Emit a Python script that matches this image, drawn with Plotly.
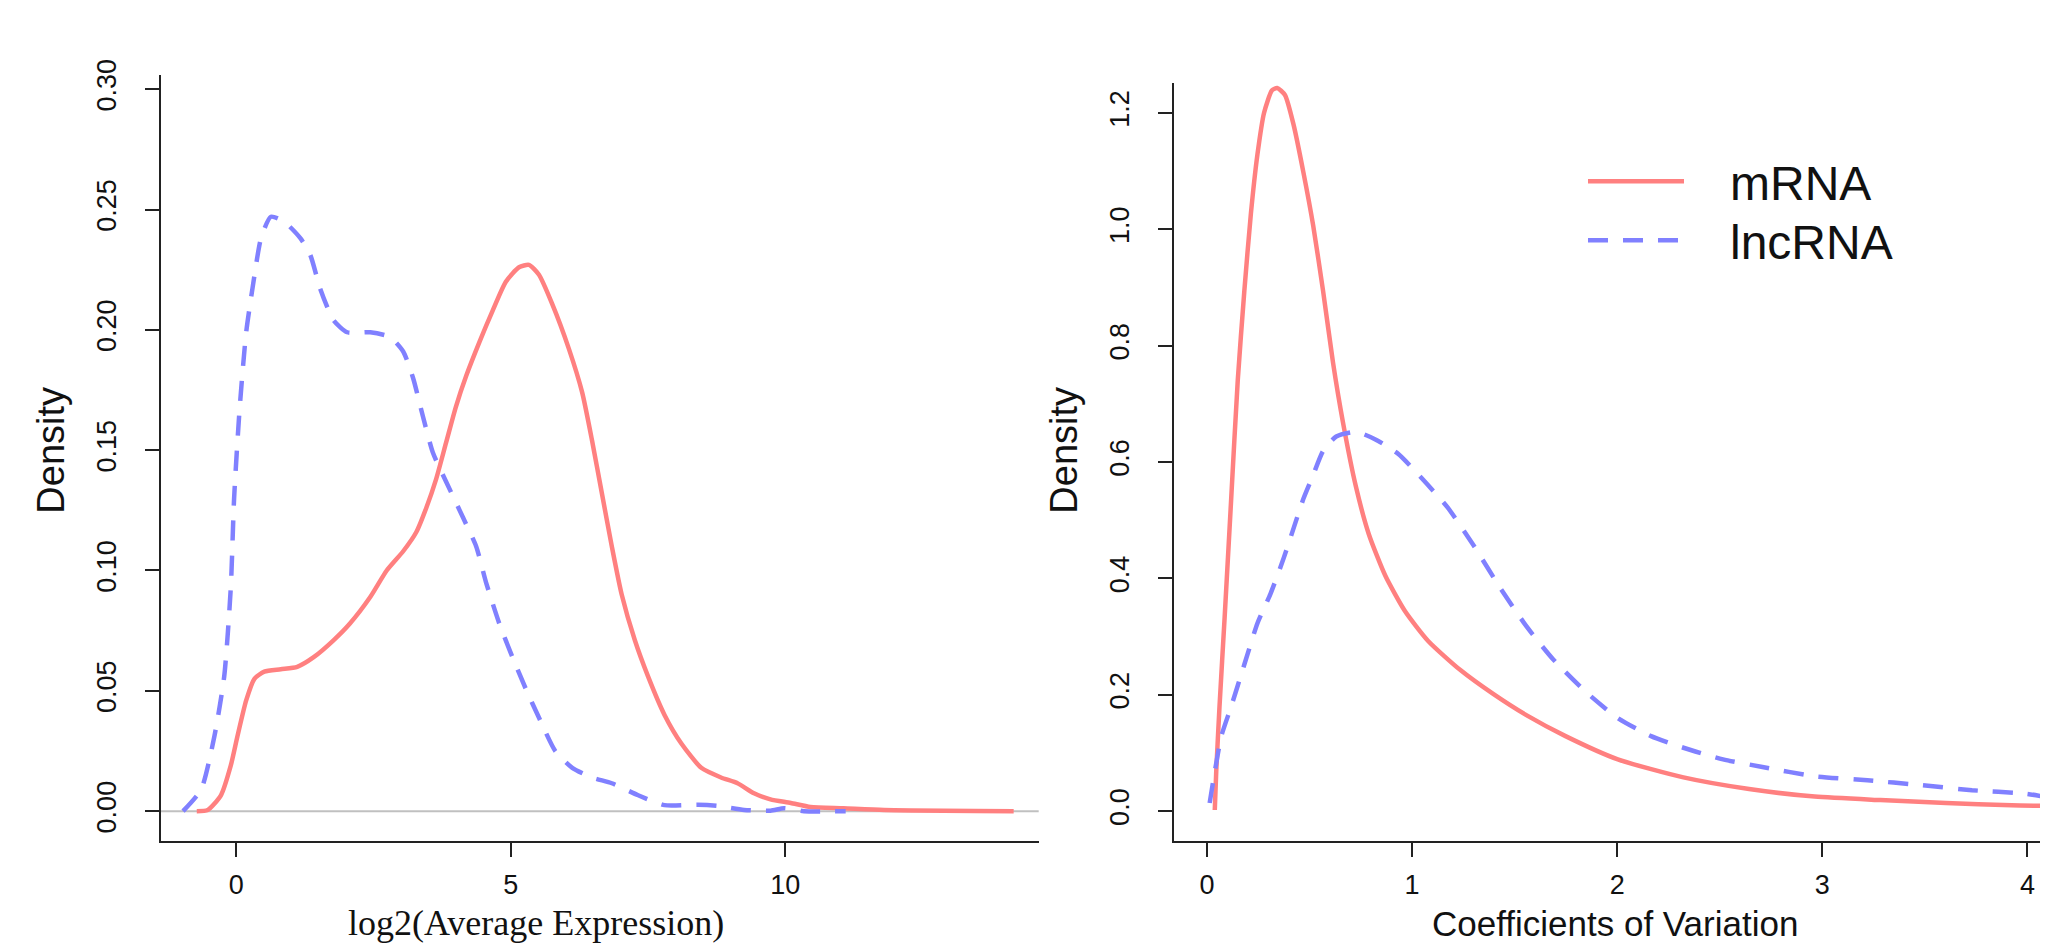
import plotly.graph_objects as go

# ---- Left panel: log2(Average Expression) densities ----
expr_lnc_x = [-0.97, -0.64, -0.40, -0.22, -0.10, -0.04, 0.06, 0.18, 0.30, 0.45, 0.63, 0.87, 1.17, 1.35,
              1.53, 1.77, 2.02, 2.44, 2.80, 3.04, 3.22, 3.40, 3.58, 3.82, 4.13, 4.37, 4.55, 4.79, 5.03,
              5.27, 5.51, 5.81, 6.12, 6.48, 6.84, 7.32, 7.80, 8.41, 8.77, 9.25, 9.73, 9.98, 10.34, 11.1]
expr_lnc_y = [0.0, 0.009, 0.031, 0.056, 0.093, 0.130, 0.167, 0.199, 0.218, 0.238, 0.247, 0.245, 0.238, 0.231,
              0.217, 0.204, 0.199, 0.199, 0.197, 0.191, 0.180, 0.164, 0.149, 0.137, 0.122, 0.110, 0.095, 0.078, 0.064,
              0.051, 0.039, 0.025, 0.018, 0.014, 0.0116, 0.0066, 0.0025, 0.0027, 0.0022, 0.0005, 0.0002, 0.0012, 0.0, 0.0]

expr_m_x = [-0.72, -0.52, -0.28, -0.10, 0.02, 0.18, 0.33, 0.51, 0.81, 1.11, 1.41, 1.77, 2.07, 2.44, 2.74,
            3.04, 3.28, 3.46, 3.64, 3.82, 4.00, 4.19, 4.43, 4.67, 4.91, 5.15, 5.33, 5.51, 5.75, 6.06, 6.30,
            6.48, 6.66, 6.84, 7.02, 7.26, 7.50, 7.80, 8.11, 8.47, 8.83, 9.13, 9.43, 9.73, 10.1, 10.46, 11.06,
            11.8, 14.16]
expr_m_y = [0.0, 0.0005, 0.0066, 0.019, 0.031, 0.046, 0.055, 0.058, 0.059, 0.060, 0.064, 0.071, 0.078, 0.089, 0.100,
            0.108, 0.116, 0.126, 0.138, 0.153, 0.168, 0.181, 0.195, 0.208, 0.220, 0.226, 0.227, 0.223, 0.211, 0.192, 0.174,
            0.154, 0.132, 0.110, 0.090, 0.071, 0.056, 0.040, 0.028, 0.018, 0.014, 0.0116, 0.0074, 0.0049, 0.0034, 0.0017, 0.0012,
            0.0005, 0.0]

# ---- Right panel: Coefficients of Variation densities ----
cv_m_x = [0.038, 0.045, 0.061, 0.086, 0.118, 0.150, 0.182, 0.214, 0.246, 0.278, 0.317, 0.342, 0.380, 0.422,
          0.470, 0.518, 0.566, 0.614, 0.662, 0.726, 0.789, 0.869, 0.965, 1.077, 1.237, 1.397, 1.557, 1.748,
          2.003, 2.323, 2.643, 2.963, 3.283, 3.603, 3.923, 4.13]
cv_m_y = [0.002, 0.068, 0.18, 0.333, 0.537, 0.741, 0.894, 1.027, 1.129, 1.200, 1.239, 1.243, 1.231, 1.180,
          1.098, 1.006, 0.894, 0.772, 0.670, 0.558, 0.476, 0.405, 0.344, 0.293, 0.242, 0.201, 0.165, 0.129,
          0.089, 0.058, 0.038, 0.025, 0.019, 0.014, 0.010, 0.009]

cv_lnc_x = [0.013, 0.038, 0.070, 0.118, 0.182, 0.246, 0.310, 0.374, 0.422, 0.470, 0.518, 0.566, 0.630, 0.726,
            0.821, 0.933, 1.045, 1.173, 1.301, 1.429, 1.557, 1.685, 1.844, 2.003, 2.165, 2.323, 2.516, 2.708,
            2.963, 3.22, 3.475, 3.73, 3.99, 4.13]
cv_lnc_y = [0.014, 0.068, 0.129, 0.180, 0.252, 0.323, 0.374, 0.435, 0.486, 0.537, 0.578, 0.619, 0.644, 0.652,
            0.639, 0.614, 0.573, 0.522, 0.456, 0.384, 0.318, 0.262, 0.206, 0.160, 0.129, 0.109, 0.089, 0.076,
            0.060, 0.053, 0.045, 0.036, 0.030, 0.022]

series_names = ["mRNA", "lncRNA"]
left_xticks = [0, 5, 10]
left_yticks = [0.0, 0.05, 0.10, 0.15, 0.20, 0.25, 0.30]
right_xticks = [0, 1, 2, 3, 4]
right_yticks = [0.0, 0.2, 0.4, 0.6, 0.8, 1.0, 1.2]

RED = "rgb(255,128,128)"
BLUE = "rgb(128,128,255)"
LW = 4.5
DASH = "20px,15px"
W, H = 2048, 946

fig = go.Figure()
fig.add_trace(go.Scatter(x=expr_m_x, y=expr_m_y, mode="lines", line=dict(color=RED, width=LW, shape="spline", smoothing=0.6),
                         name=series_names[0], xaxis="x", yaxis="y", showlegend=False))
fig.add_trace(go.Scatter(x=expr_lnc_x, y=expr_lnc_y, mode="lines", line=dict(color=BLUE, width=LW, dash=DASH, shape="spline", smoothing=0.6),
                         name=series_names[1], xaxis="x", yaxis="y", showlegend=False))
fig.add_trace(go.Scatter(x=cv_m_x, y=cv_m_y, mode="lines", line=dict(color=RED, width=LW, shape="spline", smoothing=0.6),
                         name=series_names[0], xaxis="x2", yaxis="y2", showlegend=False))
fig.add_trace(go.Scatter(x=cv_lnc_x, y=cv_lnc_y, mode="lines", line=dict(color=BLUE, width=LW, dash=DASH, shape="spline", smoothing=0.6),
                         name=series_names[1], xaxis="x2", yaxis="y2", showlegend=False))

axis_common = dict(showline=True, linecolor="#222", linewidth=2, mirror=False, ticks="outside",
                   ticklen=14, tickwidth=2, tickcolor="#222", showgrid=False, zeroline=False,
                   tickfont=dict(family="Liberation Sans", size=27, color="#111"))

fig.update_layout(
    width=W, height=H, margin=dict(l=0, r=0, t=0, b=0),
    paper_bgcolor="white", plot_bgcolor="white",
    font=dict(family="Liberation Sans", color="#111"),
    xaxis=dict(domain=[152.7 / W, 1030.7 / W], range=[-1.377, 14.616], tickvals=left_xticks,
               anchor="y", ticklabelstandoff=5, **axis_common),
    yaxis=dict(domain=[1 - 831 / H, 1 - 51.7 / H], range=[-0.01238, 0.30597], tickvals=left_yticks,
               tickformat=".2f", tickangle=-90, anchor="x", ticklabelstandoff=18, **axis_common),
    xaxis2=dict(domain=[1166 / W, 1.0], range=[-0.1609, 4.1394], tickvals=right_xticks,
                anchor="y2", ticklabelstandoff=5, **axis_common),
    yaxis2=dict(domain=[1 - 831 / H, 1 - 60 / H], range=[-0.0512, 1.2516], tickvals=right_yticks,
                tickformat=".1f", tickangle=-90, anchor="x2", ticklabelstandoff=18, **axis_common),
    showlegend=False,
)

# grey zero line in left panel
fig.add_shape(type="line", xref="x domain", yref="y", x0=0, x1=1, y0=0, y1=0,
              line=dict(color="#c0c0c0", width=2), layer="below")

def P(px, py):
    return px / W, 1 - py / H

annots = [
    ("Density", 43, 434, "Liberation Sans", 38, -90),
    ("Density", 1056, 434, "Liberation Sans", 38, -90),
    ("log2(Average Expression)", 528, 914, "Liberation Serif", 36, 0),
    ("Coefficients of Variation", 1607, 915, "Liberation Sans", 35, 0),
]
for text, px, py, fam, sz, ang in annots:
    x, y = P(px, py)
    fig.add_annotation(text=text, x=x, y=y, xref="paper", yref="paper", showarrow=False,
                       xanchor="center", yanchor="middle", textangle=ang,
                       font=dict(family=fam, size=sz, color="#111"))

# legend (drawn manually to match the long R legend keys)
leg_items = [(series_names[0], RED, "solid", 160), (series_names[1], BLUE, DASH, 220)]
for name, col, dash, py in leg_items:
    x0, y0 = P(1580, py)
    x1, _ = P(1676, py)
    fig.add_shape(type="line", xref="paper", yref="paper", x0=x0, x1=x1, y0=y0, y1=y0,
                  line=dict(color=col, width=LW, dash=dash))
    tx, ty = P(1720, py + 2)
    fig.add_annotation(text=name, x=tx, y=ty, xref="paper", yref="paper", showarrow=False,
                       xanchor="left", yanchor="middle", font=dict(family="Liberation Sans", size=48, color="#111"))

fig.write_html("out.html")
